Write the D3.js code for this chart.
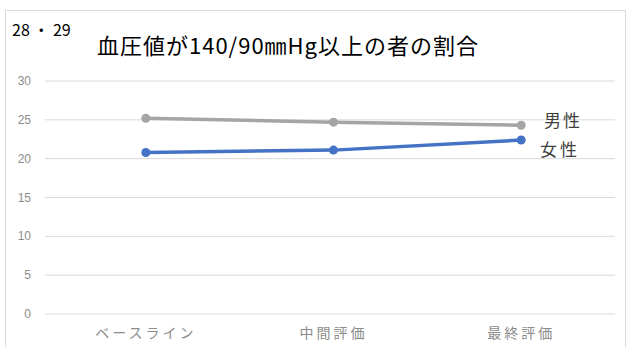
<!DOCTYPE html>
<html lang="ja">
<head>
<meta charset="UTF-8">
<script src="https://cdnjs.cloudflare.com/ajax/libs/d3/7.8.5/d3.min.js"></script>
<style>
    body { margin: 0; background: #fff; font-family: "Noto Sans CJK JP", sans-serif; }
</style>
</head>
<body>
<svg id="chart"></svg>
<script>
    const width = 636;
    const height = 347;

    const categories = ["ベースライン", "中間評価", "最終評価"];
    const male = [25.2, 24.7, 24.3];
    const female = [20.8, 21.1, 22.4];
    const yTicks = [0, 5, 10, 15, 20, 25, 30];

    const svg = d3.select("#chart")
        .attr("width", width)
        .attr("height", height);

    // outer frame
    svg.append("rect")
        .attr("x", 5.5).attr("y", 10.5)
        .attr("width", 620).attr("height", 345)
        .attr("fill", "#fff")
        .attr("stroke", "#d9d9d9");

    const x = d3.scalePoint()
        .domain(categories)
        .range([52, 615])
        .padding(0.5);

    const y = d3.scaleLinear()
        .domain([0, 30])
        .range([314, 81]);

    // gridlines
    svg.append("g")
        .selectAll("line")
        .data(yTicks)
        .join("line")
        .attr("x1", 45).attr("x2", 615)
        .attr("y1", d => y(d)).attr("y2", d => y(d))
        .attr("stroke", "#d9d9d9")
        .attr("stroke-width", 1);

    // y labels
    svg.append("g")
        .selectAll("text")
        .data(yTicks)
        .join("text")
        .attr("x", 31)
        .attr("y", d => y(d) + 4)
        .attr("text-anchor", "end")
        .attr("font-size", 12)
        .attr("fill", "#8c8c8c")
        .attr("font-family", "Liberation Sans, sans-serif")
        .text(d => d);

    // x labels
    svg.append("g")
        .selectAll("text")
        .data(categories)
        .join("text")
        .attr("x", d => x(d))
        .attr("y", 338)
        .attr("text-anchor", "middle")
        .attr("font-size", 14)
        .attr("letter-spacing", 3)
        .attr("fill", "#8c8c8c")
        .text(d => d);

    const line = d3.line()
        .x((d, i) => x(categories[i]))
        .y(d => y(d));

    const series = [
        { name: "男性", values: male, color: "#a5a5a5" },
        { name: "女性", values: female, color: "#4472c4" }
    ];

    series.forEach(s => {
        svg.append("path")
            .datum(s.values)
            .attr("d", line)
            .attr("fill", "none")
            .attr("stroke", s.color)
            .attr("stroke-width", 3.5);

        svg.append("g")
            .selectAll("circle")
            .data(s.values)
            .join("circle")
            .attr("cx", (d, i) => x(categories[i]))
            .attr("cy", d => y(d))
            .attr("r", 4.5)
            .attr("fill", s.color);
    });

    // series labels
    svg.append("text")
        .attr("x", 544).attr("y", y(male[2]) + 2)
        .attr("font-size", 17).attr("letter-spacing", 2).attr("fill", "#404040")
        .text("男性");
    svg.append("text")
        .attr("x", 540).attr("y", y(female[2]) + 16)
        .attr("font-size", 17).attr("letter-spacing", 3).attr("fill", "#404040")
        .text("女性");

    // titles
    svg.append("text")
        .attr("x", 12).attr("y", 36)
        .attr("font-size", 16).attr("fill", "#000")
        .text("28 ・ 29");

    svg.append("text")
        .attr("x", 97).attr("y", 54)
        .attr("font-size", 22)
        .attr("textLength", 381)
        .attr("fill", "#000")
        .text("血圧値が140/90㎜Hg以上の者の割合");
</script>
</body>
</html>
